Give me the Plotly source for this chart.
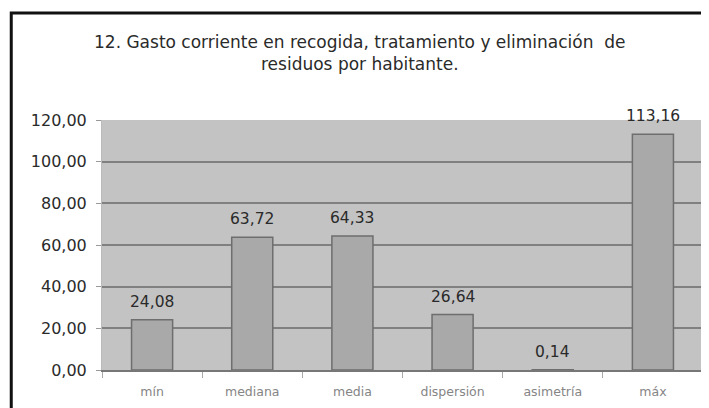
import plotly.graph_objects as go

categories = ["mín", "mediana", "media", "dispersión", "asimetría", "máx"]
values = [24.08, 63.72, 64.33, 26.64, 0.14, 113.16]
value_labels = ["24,08", "63,72", "64,33", "26,64", "0,14", "113,16"]
y_ticks = [0, 20, 40, 60, 80, 100, 120]

title_text = ("12. Gasto corriente en recogida, tratamiento y eliminación  de<br>"
              "residuos por habitante.")

FONT = "DejaVu Sans, Liberation Sans, Arial"

fig = go.Figure()
fig.add_trace(go.Bar(
    x=categories, y=values, width=0.41,
    marker=dict(color="#a9a9a9", line=dict(color="#6e6e6e", width=1.5)),
    hoverinfo="skip",
))

for c, v, lab in zip(categories, values, value_labels):
    fig.add_annotation(x=c, y=v, text=lab, showarrow=False, yanchor="middle",
                       yshift=18, font=dict(family=FONT, size=15.5, color="#2a2a2a"))

fig.add_annotation(xref="paper", yref="paper", x=0.429, y=1.0, yshift=67, text=title_text,
                   showarrow=False, yanchor="middle", align="center",
                   font=dict(family=FONT, size=17, color="#2a2a2a"))

# outer frame
fig.add_shape(type="rect", xref="paper", yref="paper", x0=-0.151, x1=1.03, y0=-0.4, y1=1.428,
              line=dict(color="#111111", width=3), fillcolor="rgba(0,0,0,0)", layer="above")

fig.update_layout(
    width=701, height=400,
    margin=dict(l=94, r=6, t=112, b=38),
    paper_bgcolor="white", plot_bgcolor="#c3c3c3",
    separators=",.",
    showlegend=False,
    xaxis=dict(showgrid=False, showline=True, linecolor="#777777", linewidth=2,
               ticks="outside", tickson="boundaries", ticklen=6, tickcolor="#aaaaaa",
               tickfont=dict(family=FONT, size=12.5, color="#858585"),
               ticklabelstandoff=9),
    yaxis=dict(range=[0, 120], tickvals=y_ticks, tickformat=".2f",
               showgrid=True, gridcolor="#808080", gridwidth=2, zeroline=False,
               ticks="outside", ticklen=5, tickcolor="#999999",
               showline=True, linecolor="#bbbbbb", linewidth=1, ticklabelstandoff=6,
               tickfont=dict(family=FONT, size=16, color="#2a2a2a")),
)

fig.write_html("out.html")
